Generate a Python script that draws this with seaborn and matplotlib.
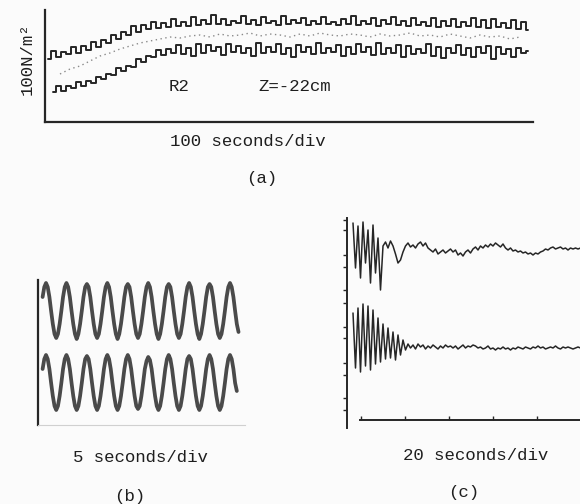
import numpy as np
import matplotlib
matplotlib.use("Agg")
import matplotlib.pyplot as plt
import seaborn as sns

# ---------------- data ----------------
# (a) pressure record, R2, Z=-22cm ; samples every 5 s
a_upper = [6.3, 7.1, 6.5, 7.0, 6.8, 7.5, 6.9, 7.6, 7.2, 8.0,
           7.5, 8.2, 7.9, 8.7, 8.3, 9.0, 8.7, 9.6, 9.0, 9.7,
           9.3, 10.0, 9.4, 9.9, 9.5, 10.3, 9.6, 10.0, 9.6, 10.5,
           9.7, 10.2, 9.8, 10.7, 9.8, 10.3, 9.7, 10.1, 9.9, 10.6,
           9.8, 10.2, 9.7, 10.5, 9.9, 10.1, 9.7, 10.6, 9.8, 10.2,
           9.9, 10.4, 9.7, 10.1, 9.8, 10.5, 9.8, 10.0, 9.7, 10.3,
           9.8, 10.6, 9.7, 10.1, 9.8, 10.4, 9.6, 10.2, 9.8, 10.5,
           9.7, 10.1, 9.6, 10.4, 9.7, 10.0, 9.6, 10.4, 9.5, 10.1,
           9.6, 10.3, 9.5, 10.0, 9.6, 10.4, 9.5, 10.2, 9.4, 10.3,
           9.5, 9.9, 9.4, 10.2, 9.3, 10.0, 9.2]
a_lower = [3.0, 3.6, 3.1, 3.6, 3.4, 4.0, 3.6, 4.1, 3.9, 4.5,
           4.3, 4.8, 4.7, 5.4, 5.1, 5.6, 5.5, 6.3, 6.0, 6.6,
           6.5, 7.2, 6.7, 7.3, 6.9, 7.7, 6.8, 7.4, 6.6, 7.8,
           6.9, 7.7, 7.1, 7.5, 6.7, 7.8, 7.0, 7.6, 6.9, 7.4,
           6.6, 7.9, 6.9, 7.5, 7.0, 7.8, 6.8, 7.4, 6.5, 7.7,
           7.0, 7.5, 6.8, 7.9, 6.9, 7.4, 7.0, 7.7, 6.6, 7.5,
           6.8, 7.8, 7.0, 7.5, 6.7, 7.9, 6.8, 7.4, 6.9, 7.7,
           6.5, 7.6, 6.8, 7.3, 6.9, 7.8, 6.6, 7.5, 6.4, 7.4,
           6.9, 7.7, 6.7, 7.4, 6.5, 7.5, 6.9, 7.6, 6.3, 7.5,
           6.8, 7.3, 6.5, 7.4, 6.9, 7.1]
a_mid = [4.8, 5.3, 5.6, 6.1, 6.6, 6.9, 7.3, 7.6, 7.9, 8.1,
         8.3, 8.5, 8.4, 8.6, 8.7, 8.5, 8.8, 8.6, 8.7, 8.9,
         8.6, 8.8, 8.7, 8.5, 8.8, 8.6, 8.9, 8.7, 8.6, 8.8,
         8.7, 8.5, 8.8, 8.6, 8.7, 8.9, 8.6, 8.7, 8.5, 8.8,
         8.6, 8.4, 8.7, 8.5, 8.6, 8.3, 8.5]

# (b) calibration sine records
b_upper = ([12.8, 13.8]
           + [14.2, 13.8, 12.8, 11.4, 10.1, 9.1, 8.7, 9.1, 10.1, 11.4, 12.8, 13.8]
           + [14.2, 13.8, 12.8, 11.4, 10.1, 9.1, 8.6, 9.1, 10.1, 11.4, 12.8, 13.8]
           + [14.1, 13.8, 12.8, 11.4, 10.1, 9.1, 8.7, 9.1, 10.1, 11.4, 12.8, 13.8]
           + [14.2, 13.8, 12.8, 11.4, 10.1, 9.1, 8.6, 9.1, 10.1, 11.4, 12.8, 13.8]
           + [14.1, 13.8, 12.8, 11.4, 10.1, 9.1, 8.7, 9.1, 10.1, 11.4, 12.8, 13.8]
           + [14.2, 13.8, 12.8, 11.4, 10.1, 9.1, 8.6, 9.1, 10.1, 11.4, 12.8, 13.8]
           + [14.1, 13.8, 12.8, 11.4, 10.1, 9.1, 8.7, 9.1, 10.1, 11.4, 12.8, 13.8]
           + [14.2, 13.8, 12.8, 11.4, 10.1, 9.1, 8.6, 9.1, 10.1, 11.4, 12.8, 13.8]
           + [14.1, 13.8, 12.8, 11.4, 10.1, 9.1, 8.7, 9.1, 10.1, 11.4, 12.8, 13.8]
           + [14.2, 13.8, 12.8, 11.4, 10.1, 9.3])
b_lower = ([5.6, 6.6]
           + [7.0, 6.6, 5.6, 4.2, 2.9, 1.9, 1.5, 1.9, 2.9, 4.2, 5.6, 6.6]
           + [7.0, 6.6, 5.6, 4.2, 2.9, 1.9, 1.5, 1.9, 2.9, 4.2, 5.6, 6.6]
           + [6.9, 6.6, 5.6, 4.2, 2.9, 1.9, 1.5, 1.9, 2.9, 4.2, 5.6, 6.6]
           + [7.0, 6.6, 5.6, 4.2, 2.9, 1.9, 1.5, 1.9, 2.9, 4.2, 5.6, 6.6]
           + [7.0, 6.6, 5.6, 4.2, 2.9, 1.9, 1.6, 1.9, 2.9, 4.2, 5.6, 6.4]
           + [6.8, 6.5, 5.6, 4.2, 2.9, 1.9, 1.5, 1.9, 2.9, 4.2, 5.6, 6.6]
           + [7.0, 6.6, 5.6, 4.2, 2.9, 1.9, 1.5, 1.9, 2.9, 4.2, 5.6, 6.6]
           + [6.9, 6.6, 5.6, 4.2, 2.9, 1.9, 1.5, 1.9, 2.9, 4.2, 5.6, 6.6]
           + [7.0, 6.6, 5.6, 4.2, 2.9, 1.9, 1.5, 1.9, 2.9, 4.2, 5.6, 6.6]
           + [7.0, 6.6, 5.6, 4.2, 3.4])

# (c) start-up records
c_upper = [20.5, 16.0, 20.2, 15.0, 20.6, 16.5, 19.8, 14.5, 20.3, 15.5,
           19.0, 13.8, 18.2, 18.6, 18.0, 18.7, 18.2, 17.4, 16.5, 16.8,
           17.6, 18.2, 18.5, 18.1, 18.3, 18.0, 18.4, 18.6, 18.2, 18.5,
           18.0, 17.8, 17.6, 17.9, 17.4, 17.6, 17.8, 17.5, 17.7, 17.9,
           17.6, 17.8, 17.3, 17.5, 17.2, 17.6, 17.8, 17.5, 17.9, 18.1,
           17.8, 18.2, 18.0, 18.3, 18.1, 18.4, 18.2, 18.5, 18.3, 18.1,
           18.4, 18.0, 17.8, 18.0, 17.7, 17.8, 17.6, 17.7, 17.5, 17.6,
           17.4, 17.5, 17.3, 17.5, 17.4, 17.6, 17.7, 17.9, 17.8, 18.0,
           18.1, 17.9, 18.0, 18.1, 17.9, 18.0, 17.8, 18.0, 17.9, 18.0,
           17.9, 18.0]
c_lower = [11.5, 6.0, 12.0, 5.6, 12.4, 6.2, 12.2, 5.8, 11.8, 6.4,
           11.0, 6.6, 10.4, 6.9, 10.0, 7.0, 9.6, 6.8, 9.3, 7.3,
           8.8, 7.8, 8.4, 8.0, 8.3, 7.9, 8.4, 8.1, 8.3, 7.9,
           8.2, 8.0, 8.3, 8.1, 7.9, 8.2, 8.0, 8.3, 8.1, 8.2,
           8.0, 8.2, 7.9, 8.1, 8.3, 8.0, 8.2, 8.1, 8.3, 8.2,
           8.0, 8.1, 7.9, 8.0, 8.2, 7.9, 8.0, 7.8, 8.0, 7.9,
           8.1, 7.9, 8.0, 7.8, 8.0, 7.9, 8.1, 8.0, 7.9, 8.1,
           8.0, 7.9, 8.1, 8.0, 8.2, 8.0, 8.1, 7.9, 8.0, 8.1,
           8.0, 8.2, 8.0, 7.9, 8.1, 8.0, 8.1, 8.0, 7.9, 8.0,
           8.1, 8.0]

labels = {
    "ylab_a": "100N/m\u00b2",
    "probe": "R2",
    "depth": "Z=-22cm",
    "xa": "100 seconds/div",
    "xb": "5 seconds/div",
    "xc": "20 seconds/div",
    "pa": "(a)", "pb": "(b)", "pc": "(c)",
}

# ---------------- style ----------------
sns.set_theme(style="white")
plt.rcParams["font.family"] = ["Liberation Mono", "DejaVu Sans"]
INK = "#262626"
SINE = "#4a4a4a"
BG = "#fbfbfb"

W, H = 580, 504
fig = plt.figure(figsize=(W / 100, H / 100), dpi=100)
fig.patch.set_facecolor(BG)


def box(l, t, r, b):
    return [l / W, 1 - b / H, (r - l) / W, (b - t) / H]


def clean(ax):
    ax.set_facecolor("none")
    for s in ("top", "right"):
        ax.spines[s].set_visible(False)
    for s in ("left", "bottom"):
        ax.spines[s].set_color(INK)
        ax.spines[s].set_linewidth(1.6)
    ax.set_xlabel("")
    ax.set_ylabel("")
    ax.set_xticks([])
    ax.set_yticks([])


# ---------------- panel (a) ----------------
axA = fig.add_axes(box(45, 10, 533, 122))
tA_up = np.arange(len(a_upper)) * 5.0
tA_lo = 5.0 + np.arange(len(a_lower)) * 5.0
tA_mid = 12.0 + np.arange(len(a_mid)) * 10.0
sns.lineplot(x=tA_mid, y=a_mid, ax=axA, color="#8a8a8a", lw=1.0,
             linestyle=(0, (1, 2.5)))
sns.lineplot(x=tA_up, y=a_upper, ax=axA, color=INK, lw=1.4,
             drawstyle="steps-mid")
sns.lineplot(x=tA_lo, y=a_lower, ax=axA, color=INK, lw=1.4,
             drawstyle="steps-mid")
axA.set_xlim(-3, 485)
axA.set_ylim(0, 11.2)
clean(axA)

# ---------------- panel (b) ----------------
axB = fig.add_axes(box(38, 280, 245, 425))
tB_up = np.arange(len(b_upper))
tB_lo = np.arange(len(b_lower))
sns.lineplot(x=tB_up, y=b_upper, ax=axB, color=SINE, lw=2.7)
sns.lineplot(x=tB_lo, y=b_lower, ax=axB, color=SINE, lw=2.7)
axB.set_xlim(-2.7, 118.8)
axB.set_ylim(0, 14.5)
clean(axB)
axB.spines["bottom"].set_color("#d0d0d0")
axB.spines["bottom"].set_linewidth(0.8)

# ---------------- panel (c) ----------------
axC = fig.add_axes(box(347, 218, 580, 428))
tC = np.arange(len(c_upper))
sns.lineplot(x=tC, y=c_upper, ax=axC, color=INK, lw=1.1)
sns.lineplot(x=np.arange(len(c_lower)), y=c_lower, ax=axC, color=INK, lw=1.1)
axC.set_xlim(-2.4, 90.8)
axC.set_ylim(0, 21.0)
clean(axC)
axC.spines["left"].set_linewidth(1.4)
axC.spines["bottom"].set_linewidth(1.4)
axC.spines["bottom"].set_position(("data", 0.8))
axC.spines["bottom"].set_bounds(2.8, 90.8)
axC.set_yticks([20.8, 19.8, 17.3, 16.1, 13.8, 12.5, 10.1, 9.0, 6.5, 5.3, 3.0, 1.8])
axC.set_xticks([3.2, 20.8, 38.4, 56.0, 73.6])
axC.tick_params(axis="y", left=True, length=3, width=1.0, direction="out",
                colors=INK, labelleft=False)
axC.tick_params(axis="x", bottom=True, length=3, width=1.0, direction="in",
                colors=INK, labelbottom=False)

# ---------------- texts ----------------
FS = 12.5


def ftext(px, py, s, **kw):
    fig.text(px / W, 1 - py / H, s, ha="center", va="center",
             fontsize=FS, color="#1e1e1e", **kw)


ftext(27, 59, labels["ylab_a"], rotation=90)
ftext(179, 86, labels["probe"])
ftext(295, 86, labels["depth"])
ftext(248, 141, labels["xa"])
ftext(262, 178, labels["pa"])
ftext(140, 458, labels["xb"])
ftext(130, 497, labels["pb"])
ftext(476, 455, labels["xc"])
ftext(464, 493, labels["pc"])

fig.savefig("out.png", dpi=100, facecolor=fig.get_facecolor())
